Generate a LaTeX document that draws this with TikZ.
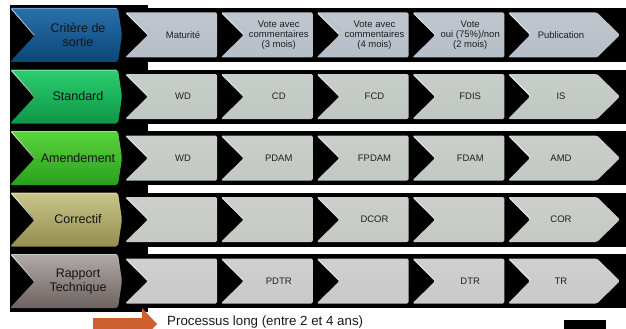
\documentclass[tikz,border=0pt]{standalone}
\usepackage{fontspec}
\setmainfont{Liberation Sans}

% header chevrons, top and bottom of the shading
\definecolor{top-crit}{RGB}{40,112,172}
\definecolor{bot-crit}{RGB}{12,70,120}
\definecolor{top-std}{RGB}{44,206,112}
\definecolor{bot-std}{RGB}{14,150,70}
\definecolor{top-amd}{RGB}{92,212,60}
\definecolor{bot-amd}{RGB}{40,160,30}
\definecolor{top-cor}{RGB}{202,198,138}
\definecolor{bot-cor}{RGB}{148,142,80}
\definecolor{top-rt}{RGB}{178,170,168}
\definecolor{bot-rt}{RGB}{108,98,96}
% stage boxes, one grey per row
\definecolor{gcrit}{RGB}{182,190,199}
\definecolor{gstd}{RGB}{192,199,194}
\definecolor{gamd}{RGB}{194,200,194}
\definecolor{gcor}{RGB}{198,200,195}
\definecolor{grt}{RGB}{201,201,201}
\definecolor{arrowor}{RGB}{206,96,45}

\tikzset{
  headtext/.style={font=\fontsize{12.5}{14}\selectfont, align=center, text=black!92},
  steptext/.style={font=\fontsize{9.5}{10}\selectfont, align=center, text=black!88},
  shine/.style={white, opacity=.7, line width=.9pt},
}

% #1 row (0..4), #2 position (1..5), #3 text, #4 grey, #5 row name
\newcommand{\stage}[5]{%
  \pgfmathsetmacro\sm{35+61.5*#1}
  \pgfmathsetmacro\sx{125+95.75*(#2-1)}
  \ifnum#2=5
    \shade[top color=#4!88!white, bottom color=#4, rounded corners=1.5pt]
      ({\sx},{\sm-22.5}) -- ++(89,0) -- ++(23,22.5) -- ++(-23,22.5)
      -- ++(-89,0) -- ++(22,-22.5) -- cycle;
    \node[steptext] (#5-#2) at ({\sx+53},{\sm}) {#3};
  \else
    \shade[top color=#4!88!white, bottom color=#4, rounded corners=1.5pt]
      ({\sx},{\sm-22.5}) -- ++(92,0) -- ++(0,45) -- ++(-92,0)
      -- ++(23,-22.5) -- cycle;
    \node[steptext] (#5-#2) at ({\sx+58},{\sm}) {#3};
  \fi
  \draw[shine] ({\sx+1.5},{\sm-21.5}) -- ++(20.5,20.5);
}

\begin{document}
\begin{tikzpicture}[x=1pt,y=-1pt]
  \useasboundingbox (0,0) rectangle (626,329);

  % black backdrop: left column, then one band per row
  \fill (10,5) rectangle (148,312);
  \foreach \r in {0,...,4}
    \fill (148,{8+61.5*\r}) rectangle (626,{62+61.5*\r});

  % header chevrons
  \foreach \c/\lbl/\nm [count=\r from 0] in
    {crit/{Critère de\\sortie}/sortie, std/Standard/standard,
     amd/Amendement/amendement, cor/Correctif/correctif,
     rt/{Rapport\\Technique}/rapport}{
    \pgfmathsetmacro\m{35+61.5*\r}
    \shade[top color=top-\c, bottom color=bot-\c, rounded corners=2pt]
      (10,{\m-27}) -- (118,{\m-27}) -- (122,\m) -- (118,{\m+27})
      -- (10,{\m+27}) -- (35,\m) -- cycle;
    \draw[shine] (11.5,{\m-26}) -- (34,\m);
    \draw[white, opacity=.35, line width=.8pt] (12,{\m-26.3}) -- (117,{\m-26.3});
    \node[headtext] (\nm) at (78,\m) {\lbl};
  }

  % stages
  \foreach \t [count=\j] in {Maturité, {Vote avec\\commentaires\\(3 mois)},
      {Vote avec\\commentaires\\(4 mois)}, {Vote\\oui (75\%)/non\\(2 mois)}, Publication}
    {\stage{0}{\j}{\t}{gcrit}{sortie}}
  \foreach \t [count=\j] in {WD, CD, FCD, FDIS, IS}
    {\stage{1}{\j}{\t}{gstd}{standard}}
  \foreach \t [count=\j] in {WD, PDAM, FPDAM, FDAM, AMD}
    {\stage{2}{\j}{\t}{gamd}{amendement}}
  \foreach \t [count=\j] in {{}, {}, DCOR, {}, COR}
    {\stage{3}{\j}{\t}{gcor}{correctif}}
  \foreach \t [count=\j] in {{}, PDTR, {}, DTR, TR}
    {\stage{4}{\j}{\t}{grt}{rapport}}

  % legend
  \fill[arrowor] (93,318) -- (142,318) -- (142,308) -- (157,324)
    -- (142,340) -- (142,332) -- (93,332) -- cycle;
  \node[anchor=west, font=\fontsize{13.3}{15}\selectfont, text=black!90, inner sep=0pt]
    (duree) at (167,322) {Processus long (entre 2 et 4 ans)};
  \fill (564,320) rectangle (606,335);
\end{tikzpicture}
\end{document}
